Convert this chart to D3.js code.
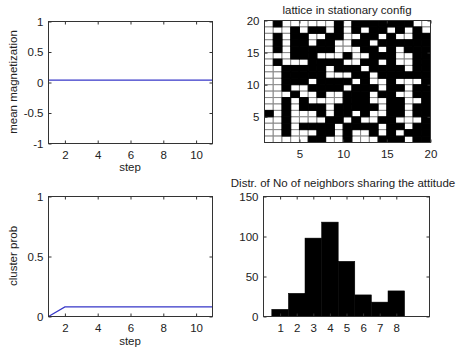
<!DOCTYPE html>
<html>
<head>
<meta charset="utf-8">
<script src="https://cdn.jsdelivr.net/npm/d3@7"></script>
<style>
  html, body { margin: 0; padding: 0; background: #fff; }
  svg { display: block; }
  text { font-family: "Liberation Sans", Arial, sans-serif; fill: #222; }
</style>
</head>
<body>
<svg id="fig" width="456" height="354"></svg>
<script>
// ---- data ----
const steps = [1, 2, 3, 4, 5, 6, 7, 8, 9, 10, 11];
const magnetization = [0.04, 0.04, 0.04, 0.04, 0.04, 0.04, 0.04, 0.04, 0.04, 0.04, 0.04];
const clusterProb = [0, 0.08, 0.08, 0.08, 0.08, 0.08, 0.08, 0.08, 0.08, 0.08, 0.08];

const neighborBins = [1, 2, 3, 4, 5, 6, 7, 8];
const neighborCounts = [9, 29, 98, 118, 69, 27, 18, 32];

// spin lattice, top row first (1 = black)
const latticeRows = [
  "0100000010111111100",
  "0001011010101101010",
  "0101100110011010011",
  "0101101100110111111",
  "0101111100011010111",
  "0001110001001110011",
  "0100011110011010011",
  "0011111011101111011",
  "0011111000110111111",
  "0011101111010010001",
  "0010011110111011011",
  "0001001001110110011",
  "0010100001110011001",
  "0010111011111011011",
  "1010001011010011011",
  "0010000110100110001",
  "0010111101111011011",
  "0010001101001010111",
  "0000011001000111011"
];

const magTicksX = [2, 4, 6, 8, 10];
const magTicksY = [-1, -0.5, 0, 0.5, 1];
const probTicksY = [0, 0.5, 1];
const latticeTicks = [5, 10, 15, 20];
const histTicksY = [0, 50, 100, 150];

// ---- drawing ----
const svg = d3.select("#fig");
const fmt = d => String(d);
const lineColor = "#3636c8";
const fontSize = 11.5;

function frame(g, x, y, xTicks, yTicks) {
  const [xl, xr] = x.range();
  const [yb, yt] = y.range();
  const ts = 3;
  g.append("g").attr("transform", `translate(0,${yb})`)
    .call(d3.axisBottom(x).tickValues(xTicks).tickSize(-ts).tickSizeOuter(0).tickPadding(7).tickFormat(fmt));
  g.append("g").attr("transform", `translate(0,${yt})`)
    .call(d3.axisTop(x).tickValues(xTicks).tickSize(-ts).tickSizeOuter(0).tickFormat(""));
  g.append("g").attr("transform", `translate(${xl},0)`)
    .call(d3.axisLeft(y).tickValues(yTicks).tickSize(-ts).tickSizeOuter(0).tickPadding(5).tickFormat(fmt));
  g.append("g").attr("transform", `translate(${xr},0)`)
    .call(d3.axisRight(y).tickValues(yTicks).tickSize(-ts).tickSizeOuter(0).tickFormat(""));
  g.selectAll(".domain").remove();
  g.selectAll(".tick line").attr("stroke", "#333");
  g.selectAll(".tick text").attr("font-size", fontSize).attr("fill", "#222")
    .style("font-family", "'Liberation Sans', Arial, sans-serif");
  g.append("rect")
    .attr("x", xl).attr("y", yt).attr("width", xr - xl).attr("height", yb - yt)
    .attr("fill", "none").attr("stroke", "#333").attr("stroke-width", 1);
}

function label(text, x, y, rotate) {
  const t = svg.append("text")
    .attr("font-size", fontSize)
    .attr("text-anchor", "middle")
    .text(text);
  if (rotate) t.attr("transform", `translate(${x},${y}) rotate(-90)`);
  else t.attr("x", x).attr("y", y);
  return t;
}

// mean magnetization vs step
{
  const g = svg.append("g");
  const x = d3.scaleLinear().domain([1, 11]).range([48.5, 212.5]);
  const y = d3.scaleLinear().domain([-1, 1]).range([143.5, 21.5]);
  g.append("path")
    .datum(steps.map((s, i) => [s, magnetization[i]]))
    .attr("fill", "none").attr("stroke", lineColor).attr("stroke-width", 1.2)
    .attr("d", d3.line().x(d => x(d[0])).y(d => y(d[1])));
  frame(g, x, y, magTicksX, magTicksY);
  label("step", 130, 171);
  label("mean magnetization", 17, 82, true);
}

// cluster probability vs step
{
  const g = svg.append("g");
  const x = d3.scaleLinear().domain([1, 11]).range([48.5, 212.5]);
  const y = d3.scaleLinear().domain([0, 1]).range([316.5, 196.5]);
  g.append("path")
    .datum(steps.map((s, i) => [s, clusterProb[i]]))
    .attr("fill", "none").attr("stroke", lineColor).attr("stroke-width", 1.2)
    .attr("d", d3.line().x(d => x(d[0])).y(d => y(d[1])));
  frame(g, x, y, magTicksX, probTicksY);
  label("step", 130, 345);
  label("cluster prob", 17, 256, true);
}

// lattice (pcolor-style: cell edges at integer coordinates 1..20)
{
  const g = svg.append("g");
  const x = d3.scaleLinear().domain([1, 20]).range([264.5, 430.5]);
  const y = d3.scaleLinear().domain([1, 20]).range([142.5, 20.5]);
  const n = latticeRows.length;
  const cells = [];
  latticeRows.forEach((row, r) => {
    row.split("").forEach((v, c) => {
      cells.push({ x0: c + 1, y0: n - r, v: +v });
    });
  });
  const cellsSorted = cells.slice().sort((a, b) => a.v - b.v);
  g.selectAll("rect.cell").data(cellsSorted).join("rect")
    .attr("class", "cell")
    .attr("x", d => x(d.x0))
    .attr("y", d => y(d.y0 + 1))
    .attr("width", d => x(d.x0 + 1) - x(d.x0))
    .attr("height", d => y(d.y0) - y(d.y0 + 1))
    .attr("fill", d => d.v ? "#000" : "#fff")
    .attr("stroke", d => d.v ? "#000" : "#8a8a8a")
    .attr("stroke-width", 1);
  frame(g, x, y, latticeTicks, latticeTicks);
  svg.append("text").attr("x", 347).attr("y", 14).attr("font-size", fontSize)
    .attr("text-anchor", "middle").text("lattice in stationary config");
}

// histogram of neighbors sharing the attitude
{
  const g = svg.append("g");
  const x = d3.scaleLinear().domain([0, 10]).range([263.5, 429.5]);
  const y = d3.scaleLinear().domain([0, 150]).range([316.5, 196.5]);
  g.selectAll("rect.bar").data(neighborBins).join("rect")
    .attr("class", "bar")
    .attr("x", d => x(d - 0.5))
    .attr("width", d => x(d + 0.5) - x(d - 0.5))
    .attr("y", (d, i) => y(neighborCounts[i]))
    .attr("height", (d, i) => y(0) - y(neighborCounts[i]))
    .attr("fill", "#000").attr("stroke", "#000").attr("stroke-width", 0.5);
  frame(g, x, y, neighborBins, histTicksY);
  svg.append("text").attr("x", 343).attr("y", 187).attr("font-size", fontSize)
    .attr("text-anchor", "middle").text("Distr. of No of neighbors sharing the attitude");
}
</script>
</body>
</html>
